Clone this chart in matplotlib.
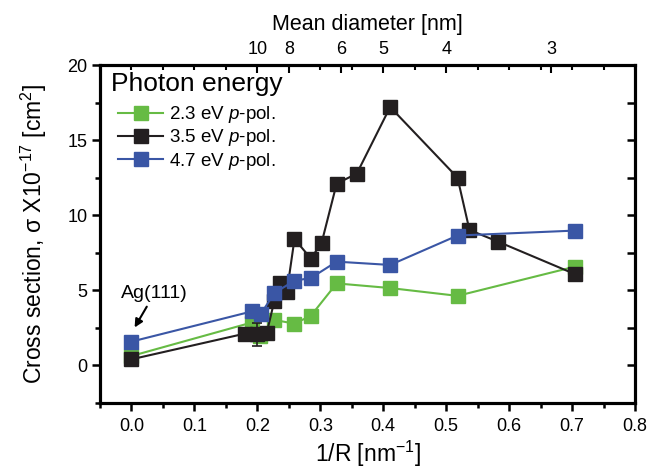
import matplotlib
matplotlib.use('Agg')
import matplotlib.pyplot as plt
from matplotlib.ticker import MultipleLocator, FixedLocator, NullFormatter

plt.rcParams['font.family'] = ['Liberation Sans', 'DejaVu Sans']
plt.rcParams['mathtext.fontset'] = 'custom'
plt.rcParams['mathtext.rm'] = 'Liberation Sans'
plt.rcParams['mathtext.it'] = 'Liberation Sans:italic'

# ---- data ----
x_green = [0.0, 0.191, 0.204, 0.227, 0.259, 0.285, 0.326, 0.411, 0.518, 0.704]
y_green = [0.6, 2.83, 1.94, 3.0, 2.76, 3.28, 5.44, 5.13, 4.61, 6.55]
x_black = [0.0, 0.180, 0.199, 0.215, 0.227, 0.236, 0.247, 0.259, 0.285, 0.302,
           0.326, 0.358, 0.411, 0.518, 0.537, 0.582, 0.704]
y_black = [0.38, 2.09, 2.05, 2.16, 4.28, 5.5, 4.9, 8.4, 7.1, 8.13,
           12.09, 12.76, 17.2, 12.49, 9.0, 8.23, 6.07]
x_blue = [0.0, 0.191, 0.206, 0.227, 0.259, 0.285, 0.326, 0.411, 0.518, 0.704]
y_blue = [1.56, 3.57, 3.43, 4.8, 5.62, 5.8, 6.89, 6.67, 8.63, 8.96]
err_x = [0.199]
err_y = [2.05]
err_val = [0.75]
diam_ticks = [10, 8, 6, 5, 4, 3]
labels = ['2.3 eV $p$-pol.', '3.5 eV $p$-pol.', '4.7 eV $p$-pol.']

c_green = '#66bb44'
c_black = '#231f20'
c_blue = '#3a56a5'

fig = plt.figure(figsize=(6.5, 4.71), dpi=100)
ax = fig.add_axes([100/650, 1-402.5/471, 535/650, 337.5/471])

ms = 10.5
ax.plot(x_green, y_green, '-s', color=c_green, lw=1.5, ms=ms, mec=c_green, label=labels[0], zorder=2)
ax.plot(x_black, y_black, '-s', color=c_black, lw=1.5, ms=ms, mec=c_black, label=labels[1], zorder=3)
ax.plot(x_blue, y_blue, '-s', color=c_blue, lw=1.5, ms=ms, mec=c_blue, label=labels[2], zorder=4)
ax.errorbar(err_x, err_y, yerr=err_val, fmt='none', ecolor=c_black, elinewidth=1.2, capsize=3.5, capthick=1.2, zorder=3.5)

ax.set_xlim(-0.05, 0.8)
ax.set_ylim(-2.5, 20)
ax.xaxis.set_major_locator(MultipleLocator(0.1))
ax.xaxis.set_minor_locator(MultipleLocator(0.05))
ax.yaxis.set_major_locator(MultipleLocator(5))
ax.yaxis.set_minor_locator(MultipleLocator(2.5))
ax.xaxis.set_major_formatter(matplotlib.ticker.FormatStrFormatter('%.1f'))
ax.tick_params(which='major', direction='out', length=6, width=1.8, labelsize=13, pad=3)
ax.tick_params(axis='x', which='major', pad=5.5)
ax.tick_params(which='minor', direction='out', length=3.5, width=1.8)
ax.tick_params(axis='x', top=False)
ax.tick_params(axis='y', right=False)
for s in ax.spines.values():
    s.set_linewidth(2.2)

ax.set_xlabel('1/R [nm$^{-1}$]', fontsize=16.5, labelpad=2.5)
ax.set_ylabel('Cross section, σ X10$^{-17}$ [cm$^{2}$]', fontsize=16.5, labelpad=13)

# top axis: mean diameter
ax2 = ax.twiny()
ax2.set_xlim(ax.get_xlim())
ax2.xaxis.set_major_locator(FixedLocator([2.0/d for d in diam_ticks]))
ax2.set_xticklabels([str(d) for d in diam_ticks])
ax2.xaxis.set_minor_locator(MultipleLocator(0.05))
ax2.tick_params(which='major', direction='in', length=6, width=1.5, labelsize=13, pad=5)
ax2.tick_params(which='minor', direction='in', length=3.5, width=1.5)
ax2.set_xlabel('Mean diameter [nm]', fontsize=15.5, labelpad=8)
for s in ax2.spines.values():
    s.set_linewidth(2.2)

# right axis ticks (in)
ax3 = ax.twinx()
ax3.set_ylim(ax.get_ylim())
ax3.yaxis.set_major_locator(MultipleLocator(2.5))
ax3.yaxis.set_major_formatter(NullFormatter())
ax3.tick_params(which='major', direction='in', length=6, width=1.8)
for s in ax3.spines.values():
    s.set_linewidth(2.2)

ax.text(11/535, (402.5-84)/337.5, 'Photon energy', transform=ax.transAxes,
        fontsize=19, ha='left', va='center')
leg = ax.legend(loc='upper left', bbox_to_anchor=(0.034, 0.884), frameon=False,
                fontsize=13.5, handlelength=2.4, handletextpad=0.3, labelspacing=0.12,
                numpoints=1, borderpad=0.0, borderaxespad=0.0)

ax.annotate('Ag(111)', xy=(0.005, 2.5), xytext=(0.037, 4.8), fontsize=14,
            ha='center', va='center',
            arrowprops=dict(arrowstyle='-|>', color='k', lw=1.5, mutation_scale=12,
                            shrinkA=2, shrinkB=0))

fig.savefig('out.png', dpi=100)
